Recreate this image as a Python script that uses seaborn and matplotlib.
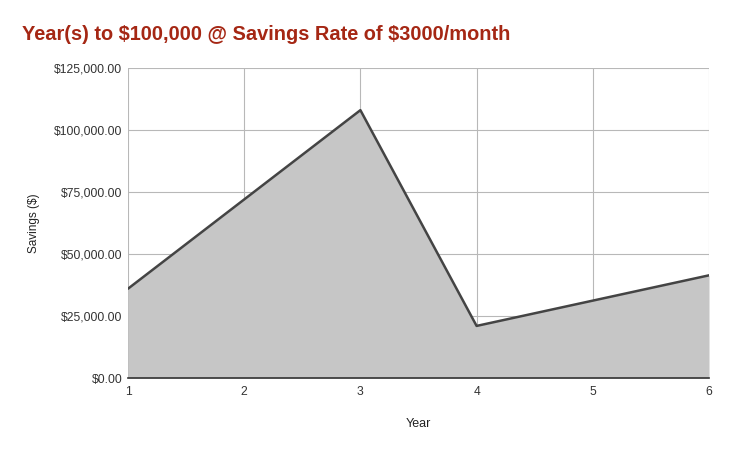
import matplotlib
matplotlib.use("Agg")
import matplotlib.pyplot as plt
import matplotlib.ticker as mticker
import pandas as pd
import seaborn as sns

# savings at end of each year
years = [1, 2, 3, 4, 5, 6]
savings = [36000, 72000, 108000, 21000, 31200, 41400]
y_ticks = [0, 25000, 50000, 75000, 100000, 125000]

df = pd.DataFrame({"Year": years, "Savings": savings})

sns.set_style("white")
plt.rcParams['font.family'] = ['Liberation Sans', 'DejaVu Sans']
plt.rcParams['text.parse_math'] = False

fig = plt.figure(figsize=(7.32, 4.53), dpi=100)
ax = fig.add_axes([128 / 732, 1 - 378 / 453, (709 - 128) / 732, (378 - 68) / 453])

ax.fill_between(df["Year"], df["Savings"], 0, color="#c6c6c6", zorder=1, linewidth=0)
sns.lineplot(data=df, x="Year", y="Savings", ax=ax, color="#444444", linewidth=1.8, zorder=3)

ax.set_xlim(1, 6)
ax.set_ylim(0, 125000)
ax.set_xticks(years)
ax.set_yticks(y_ticks)
ax.yaxis.set_major_formatter(mticker.FuncFormatter(lambda v, p: f"${v:,.2f}"))
ax.grid(True, zorder=0)
for line in ax.get_xgridlines() + ax.get_ygridlines():
    line.set_zorder(2)
    line.set_color("#b8b8b8")
    line.set_linewidth(0.8)
ax.tick_params(axis="both", length=0, labelsize=8.7, colors="#333333", pad=6)
ax.tick_params(axis="y", pad=4)

for s in ["top", "right", "left"]:
    ax.spines[s].set_visible(False)
ax.spines["bottom"].set_color("#333333")
ax.spines["bottom"].set_linewidth(1.2)
ax.spines["bottom"].set_zorder(4)

ax.set_xlabel("Year", fontsize=9, color="#222222", labelpad=14)
ax.set_ylabel("Savings ($)", fontsize=8.5, color="#222222", labelpad=10)

fig.text(22 / 732, 1 - 35 / 453, "Year(s) to $100,000 @ Savings Rate of $3000/month",
         fontsize=14.4, fontweight="bold", color="#a52714", va="center", ha="left")

fig.savefig("out.png", dpi=100)
